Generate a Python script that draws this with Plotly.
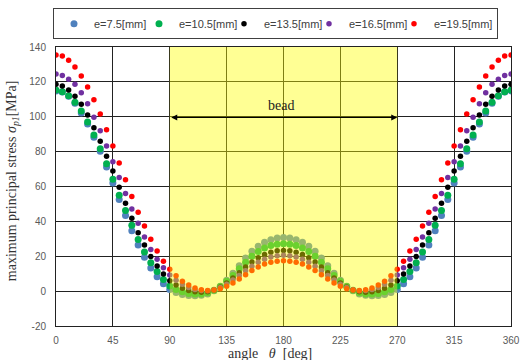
import plotly.graph_objects as go

angles = [0, 5, 10, 15, 20, 25, 30, 35, 40, 45, 50, 55, 60, 65, 70, 75, 80, 85, 90,
          95, 100, 105, 110, 115, 120, 125, 130, 135, 140, 145, 150, 155, 160, 165, 170, 175, 180,
          185, 190, 195, 200, 205, 210, 215, 220, 225, 230, 235, 240, 245, 250, 255, 260, 265, 270,
          275, 280, 285, 290, 295, 300, 305, 310, 315, 320, 325, 330, 335, 340, 345, 350, 355, 360]

# values 0..180 deg and 185..360 deg
e75_a = [114.8, 114.2, 111.8, 107.8, 102.2, 95.8, 88.2, 80.2, 71.2, 62.0, 52.6, 43.4, 34.6, 26.5, 19.4, 13.3, 8.3, 4.2, 1.0,
         -0.8, -1.9, -2.5, -2.6, -2.4, -1.6, 0.2, 2.8, 6.3, 10.3, 14.6, 19.0, 22.8, 25.8, 28.0, 29.5, 30.4, 30.7]
e75_b = [30.4, 29.5, 28.0, 25.8, 22.8, 19.0, 14.6, 10.3, 6.3, 2.8, 0.2, -1.6, -2.4, -2.6, -2.5, -1.9, -0.8, 1.0,
         4.2, 8.3, 13.3, 19.4, 26.5, 34.6, 43.4, 52.6, 62.0, 71.2, 80.2, 88.2, 95.8, 102.2, 107.8, 111.8, 114.2, 114.8]

e105_a = [115.3, 114.4, 112.1, 108.3, 103.3, 97.0, 89.5, 81.7, 73.0, 64.1, 55.0, 46.2, 37.8, 29.6, 22.5, 16.3, 11.2, 6.6, 3.0,
          1.0, -0.4, -1.3, -1.6, -1.6, -1.0, 0.5, 2.7, 5.6, 9.0, 12.8, 16.6, 20.0, 22.7, 24.7, 26.1, 26.9, 27.2]
e105_b = [26.9, 26.1, 24.7, 22.7, 20.0, 16.6, 12.8, 9.0, 5.6, 2.7, 0.5, -1.0, -1.6, -1.6, -1.3, -0.4, 1.0, 3.0,
          6.6, 11.2, 16.3, 22.5, 29.6, 37.8, 46.2, 55.0, 64.1, 73.0, 81.7, 89.5, 97.0, 103.3, 108.3, 112.1, 114.4, 115.3]

e135_a = [118.6, 117.6, 115.3, 111.7, 107.1, 101.0, 93.7, 86.0, 77.3, 68.9, 59.6, 50.4, 41.8, 33.5, 26.4, 19.8, 14.4, 9.8, 6.0,
          3.5, 1.6, 0.3, -0.4, -0.6, -0.3, 0.7, 2.4, 4.7, 7.5, 10.6, 13.8, 16.7, 19.2, 21.0, 22.3, 23.1, 23.3]
e135_b = [23.1, 22.3, 21.0, 19.2, 16.7, 13.8, 10.6, 7.5, 4.7, 2.4, 0.7, -0.3, -0.6, -0.4, 0.3, 1.6, 3.5, 6.0,
          9.8, 14.4, 19.8, 26.4, 33.5, 41.8, 50.4, 59.6, 68.9, 77.3, 86.0, 93.7, 101.0, 107.1, 111.7, 115.3, 117.6, 118.6]

e165_a = [124.5, 123.6, 121.5, 118.6, 113.8, 107.5, 99.7, 92.0, 83.2, 74.2, 65.2, 56.0, 47.1, 38.9, 31.0, 23.8, 18.3, 13.4, 9.3,
          6.3, 3.9, 2.1, 0.9, 0.3, 0.2, 0.8, 2.1, 4.0, 6.4, 9.0, 11.7, 14.3, 16.5, 18.3, 19.6, 20.3, 20.6]
e165_b = [20.3, 19.6, 18.3, 16.5, 14.3, 11.7, 9.0, 6.4, 4.0, 2.1, 0.8, 0.2, 0.3, 0.9, 2.1, 3.9, 6.3, 9.3,
          13.4, 18.3, 23.8, 31.0, 38.9, 47.1, 56.0, 65.2, 74.2, 83.2, 92.0, 99.7, 107.5, 113.8, 118.6, 121.5, 123.6, 124.5]

e195_a = [135.4, 134.8, 132.4, 128.5, 123.4, 117.1, 109.8, 101.6, 92.6, 83.2, 73.5, 63.8, 54.3, 45.2, 37.4, 29.8, 23.0, 17.2, 12.5,
          8.8, 5.7, 3.5, 1.8, 0.8, 0.4, 0.6, 1.4, 2.8, 4.7, 7.0, 9.4, 11.8, 13.8, 15.5, 16.6, 17.2, 17.4]
e195_b = [17.2, 16.6, 15.5, 13.8, 11.8, 9.4, 7.0, 4.7, 2.8, 1.4, 0.6, 0.4, 0.8, 1.8, 3.5, 5.7, 8.8, 12.5,
          17.2, 23.0, 29.8, 37.4, 45.2, 54.3, 63.8, 73.5, 83.2, 92.6, 101.6, 109.8, 117.1, 123.4, 128.5, 132.4, 134.8, 135.4]

series_names = ["e=7.5[mm]", "e=10.5[mm]", "e=13.5[mm]", "e=16.5[mm]", "e=19.5[mm]"]
series_values = [e75_a + e75_b, e105_a + e105_b, e135_a + e135_b, e165_a + e165_b, e195_a + e195_b]
colors = ["#4F81BD", "#00B050", "#000000", "#7030A0", "#FF0000"]
sizes = [7, 7, 5.5, 5.5, 5.5]

x_ticks = [0, 45, 90, 135, 180, 225, 270, 315, 360]
y_ticks = [-20, 0, 20, 40, 60, 80, 100, 120, 140]
bead_range = [90, 270]
bead_level = 99.6

fig = go.Figure()
for i, (name, vals, c, s) in enumerate(zip(series_names, series_values, colors, sizes)):
    fig.add_trace(go.Scatter(x=angles, y=vals, mode="markers", name=name,
                             legendwidth=(58 if i == len(series_names) - 1 else None),
                             marker=dict(color=c, size=s, line=dict(width=0))))

serif = "Liberation Serif, Times New Roman, serif"
sans = "Liberation Sans, Arial, sans-serif"

fig.update_layout(
    width=520, height=360,
    margin=dict(l=56, r=9, t=47, b=34, autoexpand=False),
    paper_bgcolor="white", plot_bgcolor="white",
    font=dict(family=sans, size=10, color="#595959"),
    legend=dict(orientation="h", x=-0.0066, y=1.139, xanchor="left", yanchor="top",
                font=dict(family=sans, size=11, color="#404040"),
                bordercolor="#404040", borderwidth=1, bgcolor="white",
                entrywidth=40, itemwidth=30, tracegroupgap=0),
    showlegend=True,
)
fig.update_xaxes(range=[0, 360], tickvals=x_ticks, ticktext=[str(v) for v in x_ticks],
                 showgrid=True, gridcolor="#222222", gridwidth=1,
                 showline=True, linecolor="#222222", linewidth=1, mirror=True,
                 zeroline=False, ticks="outside", ticklen=5, tickcolor="rgba(0,0,0,0)",
                 tickfont=dict(size=10, color="#595959"))
fig.update_yaxes(range=[-20, 140], tickvals=y_ticks, ticktext=[str(v) for v in y_ticks],
                 showgrid=True, gridcolor="#222222", gridwidth=1,
                 showline=True, linecolor="#222222", linewidth=1, mirror=True,
                 zeroline=False, ticks="outside", ticklen=7, tickcolor="rgba(0,0,0,0)",
                 tickfont=dict(size=10, color="#595959"))

fig.add_shape(type="rect", xref="x", yref="y", x0=bead_range[0], x1=bead_range[1], y0=-20, y1=140,
              fillcolor="#FFFF00", opacity=0.42, line=dict(width=0), layer="above")

# bead arrow (double-headed), drawn above the yellow band
fig.add_annotation(x=bead_range[1], y=bead_level, ax=bead_range[0], ay=bead_level,
                   xref="x", yref="y", axref="x", ayref="y", text="", showarrow=True,
                   arrowhead=2, arrowside="end+start", arrowsize=1, arrowwidth=1.2,
                   arrowcolor="#000000", standoff=0, startstandoff=0)
fig.add_annotation(x=178, y=106.7, xref="x", yref="y", text="bead", showarrow=False,
                   font=dict(family=serif, size=14, color="#222222"))

# axis titles
fig.add_annotation(x=-0.094, y=0.52, xref="paper", yref="paper", textangle=-90,
                   text="maximum principal stress <i>σ<sub>p1</sub></i>[MPa]", showarrow=False,
                   font=dict(family=serif, size=14, color="#333333"), xanchor="center", yanchor="middle")
fig.add_annotation(x=0.47, y=-0.1, xref="paper", yref="paper",
                   text="angle\u00a0\u00a0\u00a0<i>θ</i>\u00a0\u00a0[deg]", showarrow=False,
                   font=dict(family=serif, size=14, color="#333333"), xanchor="center", yanchor="middle")

fig.write_html("out.html")
